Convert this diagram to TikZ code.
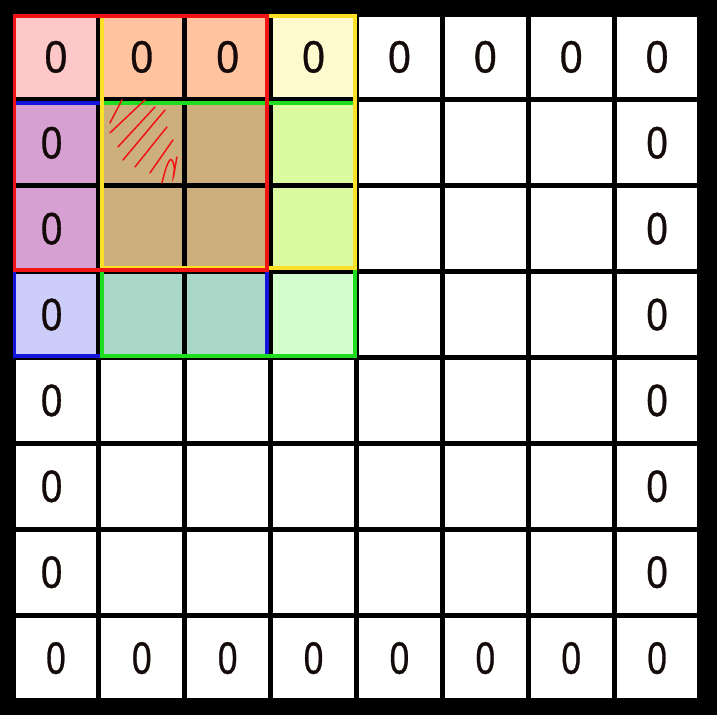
\documentclass[tikz,border=0pt]{standalone}
\usepackage{graphicx}
\usepackage{fontspec}
\setmainfont{Liberation Sans}[FakeBold=0.8]
\usepackage{tikz}
\definecolor{pinkcell}{RGB}{255,200,200}
\definecolor{orangecell}{RGB}{255,195,160}
\definecolor{yellowcell}{RGB}{255,250,205}
\definecolor{purplecell}{RGB}{215,160,210}
\definecolor{tancell}{RGB}{205,175,125}
\definecolor{limecell}{RGB}{220,250,160}
\definecolor{lavendercell}{RGB}{205,205,250}
\definecolor{tealcell}{RGB}{170,215,200}
\definecolor{greencell}{RGB}{210,255,205}
\definecolor{redline}{RGB}{240,20,20}
\definecolor{yellowline}{RGB}{250,225,40}
\definecolor{blueline}{RGB}{20,20,220}
\definecolor{greenline}{RGB}{30,220,30}
\definecolor{ink}{RGB}{20,10,10}
\tikzset{gridline/.style={line width=1.7pt, black}}
\tikzset{window/.style={line width=1.2pt}}
\tikzset{zero/.style={inner sep=0pt, text=ink, font=\fontsize{15}{18}\selectfont}}
\tikzset{scribble/.style={redline, line width=0.5pt, line cap=round}}

\begin{document}
\begin{tikzpicture}
\fill[black] (-0.151,-0.163) rectangle (8.198,8.163);
\useasboundingbox (-0.151,-0.163) rectangle (8.198,8.163);
\fill[white] (0,0) rectangle (8,8);
% padded corner
\fill[pinkcell] (0,7) rectangle (1,8);
\fill[orangecell] (1,7) rectangle (3,8);
\fill[yellowcell] (3,7) rectangle (4,8);
\fill[purplecell] (0,5) rectangle (1,7);
\fill[tancell] (1,5) rectangle (3,7);
\fill[limecell] (3,5) rectangle (4,7);
\fill[lavendercell] (0,4) rectangle (1,5);
\fill[tealcell] (1,4) rectangle (3,5);
\fill[greencell] (3,4) rectangle (4,5);
\foreach \i in {1,...,7} {
  \draw[gridline] (\i,0) -- (\i,8);
  \draw[gridline] (0,\i) -- (8,\i);
}
\draw[gridline] (0,0) rectangle (8,8);
% kernel windows
\draw[window, blueline] (0.02,4.02) rectangle (2.96,6.96);
\draw[window, greenline] (1.04,4.02) rectangle (3.98,6.96);
\draw[window, yellowline] (1.04,5.04) rectangle (3.98,7.98);
\draw[window, redline] (0.02,5.02) rectangle (2.96,7.98);
% zeros
\foreach \c in {0,...,7} {
  \node[zero] (t\c) at (\c+0.5,7.5) {\scalebox{0.9}[1]{0}};
  \node[zero] (b\c) at (\c+0.5,0.5) {\scalebox{0.78}[1]{0}};
}
\foreach \r in {1,...,6} {
  \node[zero] (l\r) at (0.45,7.5-\r) {\scalebox{0.85}[1]{0}};
  \node[zero] (r\r) at (7.5,7.5-\r) {\scalebox{0.85}[1]{0}};
}
% hatching
\draw[scribble] (1.129,6.731) -- (1.269,6.999);
\draw[scribble] (1.129,6.615) -- (1.537,7.0);
\draw[scribble] (1.222,6.452) -- (1.653,6.917);
\draw[scribble] (1.281,6.300) -- (1.770,6.882);
\draw[scribble] (1.420,6.219) -- (1.793,6.685);
\draw[scribble] (1.595,6.149) -- (1.863,6.533);
\draw[scribble] (1.735,6.033) .. controls (1.80,6.30) and (1.85,6.40) .. (1.88,6.20) .. controls (1.86,6.05) .. (1.909,6.335);
\end{tikzpicture}
\end{document}
